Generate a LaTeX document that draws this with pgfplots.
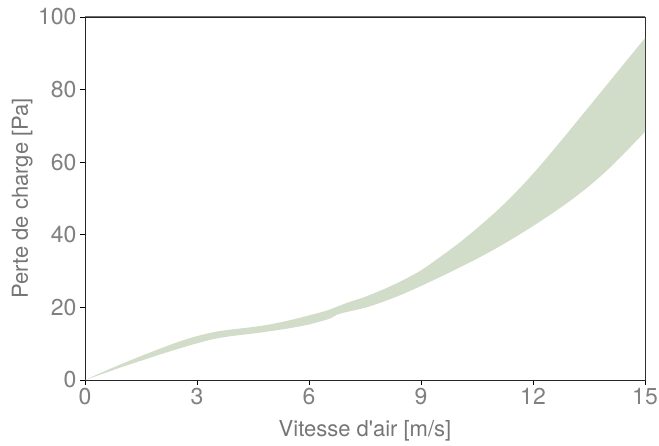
\documentclass[border=0pt]{standalone}
\usepackage{fontspec}
\setmainfont{TeX Gyre Heros}
\usepackage{pgfplots}
\pgfplotsset{compat=1.18}
\usepgfplotslibrary{fillbetween}
\definecolor{band}{RGB}{210,221,201}
\definecolor{tickgray}{RGB}{128,128,128}
\definecolor{labgray}{RGB}{118,118,118}
\definecolor{framegray}{RGB}{110,110,110}
\begin{document}
\begin{tikzpicture}
\begin{axis}[
  at={(85pt,66pt)}, anchor=south west,
  scale only axis, width=560pt, height=363pt,
  xmin=0, xmax=15, ymin=0, ymax=100,
  xtick={0,3,...,15}, ytick={0,20,...,100},
  tick align=outside, xtick pos=left, ytick pos=left,
  major tick length=5pt,
  tick style={black, line width=0.8pt},
  axis line style={black!85, line width=0.9pt},
  /pgf/number format/assume math mode=true,
  tick label style={font=\fontsize{23}{27}\selectfont, text=tickgray},
  label style={font=\fontsize{22}{26}\selectfont, text=labgray},
  xlabel={Vitesse d\textquotesingle air [m/s]},
  ylabel={Perte de charge [Pa]},
  xlabel style={at={(axis description cs:0.5,-0.14)}, anchor=center},
  ylabel style={at={(axis description cs:-0.112,0.5)}, anchor=center},
]
\addplot[name path=up, draw=none, smooth] coordinates {
(0,0) (0.5,2.3) (1,4.5) (1.5,6.6) (2,8.6) (2.5,10.5) (3,12.1) (3.5,13.3)
(4,14.0) (4.5,14.6) (5,15.4) (5.5,16.5) (6,17.8) (6.5,19.2) (7,21.2)
(7.5,22.9) (8,25.0) (8.5,27.4) (9,30.2) (9.5,33.8) (10,37.6) (10.5,41.8)
(11,46.3) (11.5,51.3) (12,56.8) (12.5,62.8) (13,69.0) (13.5,75.3)
(14,81.6) (14.5,87.9) (15,94.2)};
\addplot[name path=lo, draw=none, smooth] coordinates {
(0,0) (0.5,1.8) (1,3.6) (1.5,5.3) (2,7.0) (2.5,8.6) (3,10.1) (3.5,11.4)
(4,12.2) (4.5,12.8) (5,13.5) (5.5,14.3) (6,15.3) (6.4,16.4) (6.6,17.1)
(6.75,18.0) (7,18.7) (7.5,19.9) (8,21.6) (8.5,23.6) (9,25.9) (9.5,28.3)
(10,30.8) (10.5,33.4) (11,36.2) (11.5,39.2) (12,42.4) (12.5,45.8)
(13,49.4) (13.5,53.4) (14,57.9) (14.5,63.0) (15,68.4)};
\addplot[band, draw=none] fill between[of=up and lo];
\draw[framegray, line width=1pt] (rel axis cs:0,1) -- (rel axis cs:1,1) -- (rel axis cs:1,0);
\end{axis}
\pgfresetboundingbox
\useasboundingbox (0,0) rectangle (659pt,446pt);
\end{tikzpicture}
\end{document}
